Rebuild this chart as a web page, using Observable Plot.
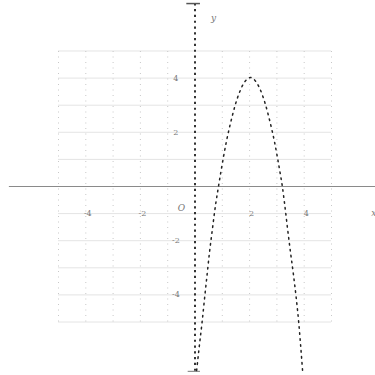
<!DOCTYPE html>
<html><head><meta charset="utf-8">
<script src="https://cdn.jsdelivr.net/npm/d3@7"></script>
<script src="https://cdn.jsdelivr.net/npm/@observablehq/plot@0.6"></script>
<style>body{margin:0;background:#fff;}#chart{width:375px;height:375px;}</style>
</head><body><div id="chart"></div>
<script>
// parabola points (data units)
const curveX = [0.06,0.16,0.26,0.35,0.44,0.53,0.64,0.75,0.86,0.95,1.04,1.15,1.25,1.36,1.48,1.62,1.82,2.03,2.24,2.44,2.58,2.70,2.81,2.91,3.02,3.11,3.20,3.29,3.39,3.50,3.61,3.71,3.80,3.87,3.94];
const curveY = [-6.79,-5.87,-5.0,-4.13,-3.28,-2.44,-1.55,-0.70,0.0,0.55,1.07,1.66,2.12,2.58,3.03,3.45,3.86,4.02,3.86,3.45,3.03,2.58,2.12,1.66,1.07,0.55,0.0,-0.70,-1.55,-2.44,-3.28,-4.13,-5.02,-5.87,-6.79];
const gridValues = [-5,-4,-3,-2,-1,0,1,2,3,4,5];
const xTickLabels = [-4,-2,2,4];
const yTickLabels = [4,2,-2,-4];
const axisLabels = [{t:"y", x:0.68, y:6.2}, {t:"x", x:6.55, y:-1.0}, {t:"O", x:-0.5, y:-0.8}];

const pts = curveX.map((x,i)=>({x, y:curveY[i]}));
const chart = Plot.plot({
  width:375, height:375, margin:0,
  x:{domain:[-7.125,6.612], axis:null},
  y:{domain:[-6.974,6.863], axis:null},
  marks:[
    Plot.ruleY(gridValues.filter(v=>v!==0), {x1:-5, x2:5, stroke:"#e4e4e4", strokeWidth:1}),
    Plot.ruleX(gridValues.filter(v=>v!==0), {y1:-5, y2:5, stroke:"#c8c8c8", strokeWidth:1, strokeDasharray:"1,4.5"}),
    Plot.ruleY([0], {x1:-6.8, x2:6.612, stroke:"#8a8a8a", strokeWidth:1.2}),
    Plot.ruleX([0], {y1:-6.82, y2:6.75, stroke:"#333", strokeWidth:2, strokeDasharray:"2.2,3.6"}),
    Plot.ruleY([6.75], {x1:-0.3, x2:0.2, stroke:"#555", strokeWidth:1.5}),
    Plot.ruleY([-6.82], {x1:-0.25, x2:0.2, stroke:"#777", strokeWidth:1}),
    Plot.line(pts, {x:"x", y:"y", curve:"monotone-x", stroke:"#222", strokeWidth:1.5, strokeDasharray:"1.6,4.4"}),
    Plot.text(xTickLabels, {x:d=>d, y:-1.0, dx:2, text:d=>String(d), fontSize:8, fill:"#777", fontFamily:"DejaVu Serif"}),
    Plot.text(yTickLabels, {x:-0.7, y:d=>d, text:d=>String(d), fontSize:8, fill:"#777", fontFamily:"DejaVu Serif"}),
    Plot.text(axisLabels, {x:"x", y:"y", text:"t", fontSize:9, fill:"#777", fontFamily:"DejaVu Serif", fontStyle:"italic"})
  ]
});
document.getElementById("chart").appendChild(chart);
</script></body></html>
